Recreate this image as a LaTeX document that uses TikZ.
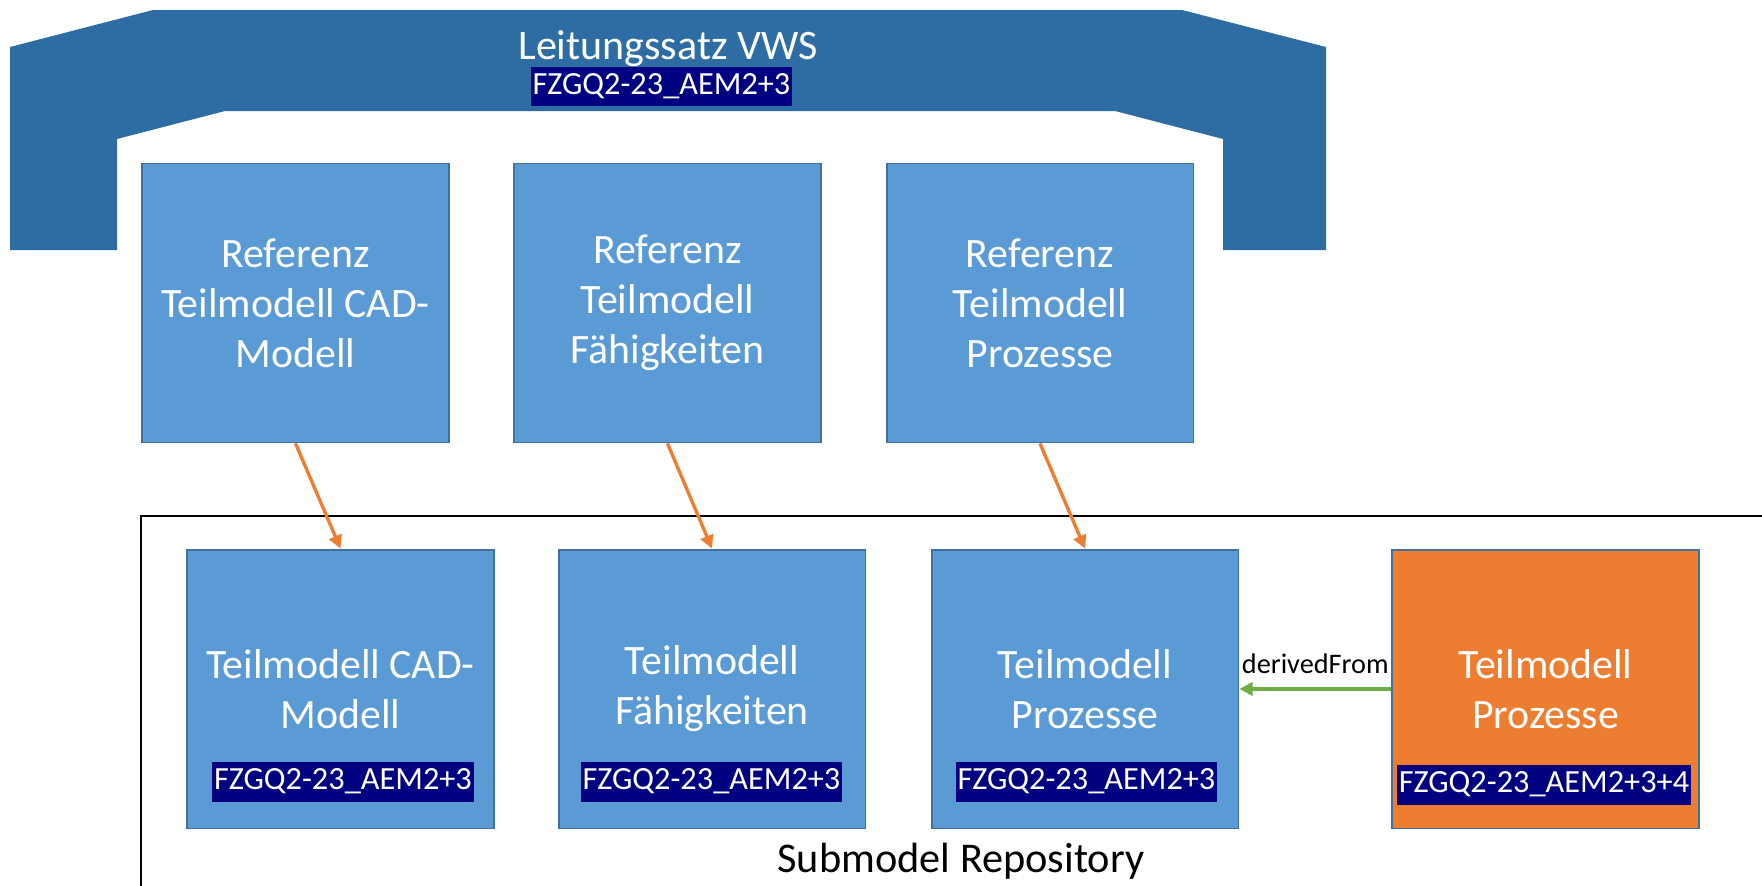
\documentclass[tikz,border=0pt]{standalone}
\usepackage{fontspec}
\setmainfont{Carlito}
\usetikzlibrary{arrows.meta}

\definecolor{bannerblue}{HTML}{2E6DA4}
\definecolor{boxblue}{HTML}{5B9BD5}
\definecolor{boxedge}{HTML}{41719C}
\definecolor{boxorange}{HTML}{ED7D31}
\definecolor{idnavy}{HTML}{000080}
\definecolor{linkgreen}{HTML}{70AD47}

\begin{document}
\begin{tikzpicture}[x=0.02cm, y=-0.02cm,
    model/.style={draw=boxedge, line width=1.1pt, fill=boxblue, text=white,
        minimum width=6.14cm, minimum height=5.58cm, align=center,
        font=\fontsize{23.8}{28.4}\selectfont},
    newmodel/.style={model, fill=boxorange},
    idtag/.style={fill=idnavy, text=white, inner xsep=1pt, inner ysep=0pt,
        minimum height=0.8cm, font=\fontsize{18.4}{20}\selectfont},
    reflink/.style={draw=boxorange, line width=1.9pt, -{Triangle[length=7.5pt,width=7.5pt]}},
    derivelink/.style={draw=linkgreen, line width=1.9pt, -{Triangle[length=7.5pt,width=7.5pt]}}]

    % Fix Canvas
    \useasboundingbox (0,0) rectangle (1762,886);

    % Draw Banner
    \fill[bannerblue] (10,47) -- (153,10) -- (1182,10) -- (1326,47) -- (1326,250)
        -- (1223,250) -- (1223,139) -- (1115,111) -- (225,111) -- (117,139)
        -- (117,250) -- (10,250) -- cycle;
    \node[text=white, anchor=base, font=\fontsize{23.9}{28}\selectfont] (vws) at (668,59) {Leitungssatz VWS};
    \node[idtag] (vwsid) at (661.5,86.5) {FZGQ2-23\_AEM2+3};

    % Reference Boxes
    \node[model] (ref1) at (295.5,303) {Referenz\\Teilmodell CAD-\\Modell};
    \node[model] (ref2) at (667.5,303) {Referenz\\Teilmodell\\Fähigkeiten};
    \node[model] (ref3) at (1040,303) {Referenz\\Teilmodell\\Prozesse};

    % Repository Frame
    \draw[line width=1.1pt] (141,886) -- (141,516) -- (1762,516);
    \node[anchor=base, font=\fontsize{24.1}{28}\selectfont] (repo) at (961,872) {Submodel Repository};

    % Submodel Boxes
    \node[model] (sub1) at (340.5,689) {Teilmodell CAD-\\Modell};
    \node[model] (sub2) at (712,689) {Teilmodell\\Fähigkeiten};
    \node[model] (sub3) at (1085,689) {Teilmodell\\Prozesse};
    \node[newmodel] (sub4) at (1545.5,689) {Teilmodell\\Prozesse};

    % Version Tags
    \node[idtag] (id1) at (343,781.5) {FZGQ2-23\_AEM2+3};
    \node[idtag] (id2) at (711.5,781.5) {FZGQ2-23\_AEM2+3};
    \node[idtag] (id3) at (1086.5,781.5) {FZGQ2-23\_AEM2+3};
    \node[idtag] (id4) at (1544,784.5) {FZGQ2-23\_AEM2+3+4};

    % Links
    \draw[reflink] (ref1.south) -- (sub1.north);
    \draw[reflink] (ref2.south) -- (sub2.north);
    \draw[reflink] (ref3.south) -- (sub3.north);
    \draw[derivelink] (sub4.west) -- node[midway, anchor=base, yshift=9pt, text=black,
        font=\fontsize{16.1}{18}\selectfont] (derived) {derivedFrom} (sub3.east);
\end{tikzpicture}
\end{document}
